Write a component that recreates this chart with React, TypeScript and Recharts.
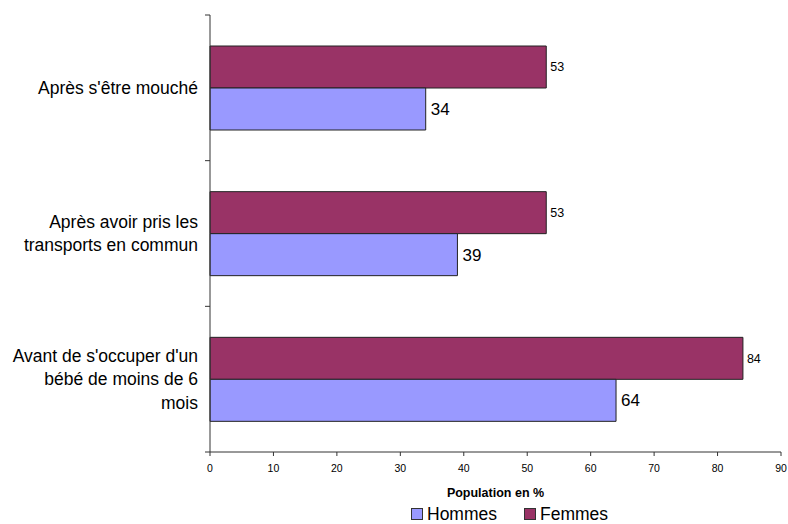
import { BarChart, Bar, XAxis, YAxis, Legend, LabelList, Label } from 'recharts';

const categories = [
  "Après s'être mouché",
  'Après avoir pris les transports en commun',
  "Avant de s'occuper d'un bébé de moins de 6 mois",
];
const categoryLines = [
  ["Après s'être mouché"],
  ['Après avoir pris les', 'transports en commun'],
  ["Avant de s'occuper d'un", 'bébé de moins de 6', 'mois'],
];
const femmes = [53, 53, 84];
const hommes = [34, 39, 64];
const xTicks = [0, 10, 20, 30, 40, 50, 60, 70, 80, 90];

const data = categories.map((c, i) => ({ name: c, femmes: femmes[i], hommes: hommes[i] }));

const W = 788;
const H = 524;
const TOP = 15;
const BOTTOM = 72;
const BAND = (H - TOP - BOTTOM) / categories.length;
const FONT = '"Liberation Sans", Arial, sans-serif';
const AXIS = '#333';

function CategoryTick(props: any) {
  const { y, payload, index } = props;
  const lines = categoryLines[index] ?? [payload.value];
  const lh = 23.5;
  const first = y - ((lines.length - 1) * lh) / 2;
  return (
    <g>
      <line x1={205} x2={210} y1={y - BAND / 2} y2={y - BAND / 2} stroke={AXIS} />
      {index === categories.length - 1 && (
        <line x1={205} x2={210} y1={y + BAND / 2} y2={y + BAND / 2} stroke={AXIS} />
      )}
      <text x={198} y={first} textAnchor="end" dominantBaseline="central" fontSize={17.5} fill="#000" fontFamily={FONT}>
        {lines.map((l, i) => (
          <tspan key={i} x={198} y={first + i * lh}>
            {l}
          </tspan>
        ))}
      </text>
    </g>
  );
}

function LegendContent() {
  const items = [
    { label: 'Hommes', color: '#9999ff' },
    { label: 'Femmes', color: '#993366' },
  ];
  return (
    <div style={{ display: 'flex', fontFamily: FONT, fontSize: 17.5, color: '#000', lineHeight: '18px', marginTop: 3 }}>
      {items.map((it) => (
        <div key={it.label} style={{ display: 'flex', alignItems: 'center', marginRight: 27 }}>
          <span style={{ display: 'inline-block', width: 10, height: 10, background: it.color, border: '1px solid #333', marginRight: 4 }} />
          {it.label}
        </div>
      ))}
    </div>
  );
}

export default function App() {
  return (
    <div style={{ position: 'absolute', left: 0, top: 0, width: W, height: H, background: '#fff', fontFamily: FONT }}>
      <BarChart
        width={W}
        height={H}
        data={data}
        layout="vertical"
        margin={{ top: TOP, right: 7, bottom: 0, left: 0 }}
        barGap={0}
      >
        <XAxis
          type="number"
          domain={[0, 90]}
          ticks={xTicks}
          interval={0}
          height={50}
          tickSize={4}
          tickMargin={9}
          stroke={AXIS}
          tick={{ fontSize: 10.5, fill: '#000', fontFamily: FONT }}
        >
          <Label
            value="Population en %"
            position="insideBottom"
            offset={5}
            style={{ fontSize: 12.5, fontWeight: 'bold', fill: '#000', fontFamily: FONT }}
          />
        </XAxis>
        <YAxis
          type="category"
          dataKey="name"
          width={210}
          stroke={AXIS}
          tickLine={false}
          tick={<CategoryTick />}
          interval={0}
        />
        <Legend
          verticalAlign="bottom"
          height={22}
          content={<LegendContent />}
          wrapperStyle={{ left: 411, width: 300, bottom: 0 }}
        />
        <Bar dataKey="femmes" name="Femmes" fill="#993366" stroke="#222" strokeWidth={1} barSize={42} isAnimationActive={false}>
          <LabelList dataKey="femmes" position="right" offset={4} style={{ fontSize: 12.5, fill: '#000', fontFamily: FONT }} />
        </Bar>
        <Bar dataKey="hommes" name="Hommes" fill="#9999ff" stroke="#222" strokeWidth={1} barSize={42} isAnimationActive={false}>
          <LabelList dataKey="hommes" position="right" offset={5} style={{ fontSize: 17, fill: '#000', fontFamily: FONT }} />
        </Bar>
      </BarChart>
    </div>
  );
}
